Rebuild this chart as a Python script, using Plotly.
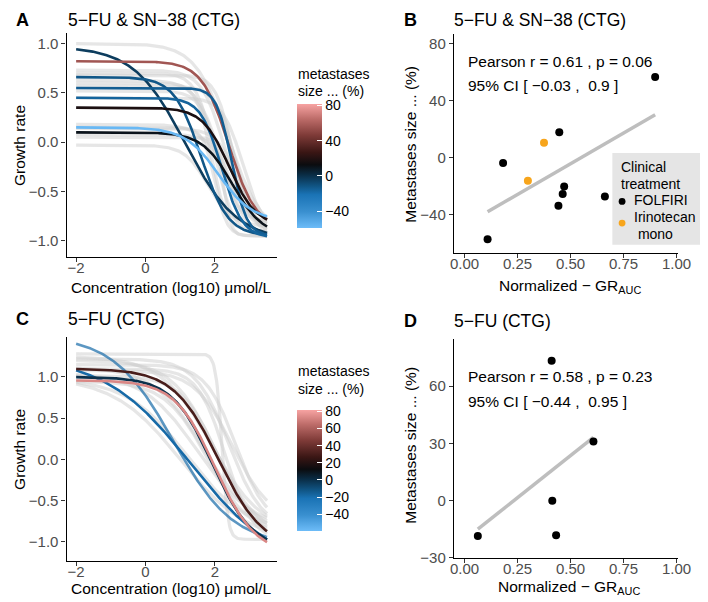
import numpy as np
import plotly.graph_objects as go
from plotly.colors import sample_colorscale

W, H = 708, 602
def X(px): return px / W
def Y(py): return 1 - py / H

FONT = "Liberation Sans, Arial, Helvetica, sans-serif"

# ---------------- data ----------------
conc_min, conc_max = -2.0, 3.5          # log10 umol/L

# GR curve fits: top, bottom, log10 GEC50, hill
# Panel A (5-FU & SN-38) - samples without metastases data (grey)
a_grey_top = [1.00, 0.73, 0.70, 0.68, 0.63, 0.60, 0.57, 0.52, 0.45, 0.18, 0.15, 0.14, 0.08, 0.05, -0.03]
a_grey_bot = [-0.95, -0.90, -0.95, -0.85, -1.00, -0.90, -0.95, -0.80, -0.90, -0.85, -0.95, -1.00, -0.90, -0.95, -0.85]
a_grey_ec  = [2.40, 2.30, 2.00, 2.50, 2.20, 1.90, 2.60, 2.10, 2.80, 2.30, 2.00, 2.70, 2.50, 2.25, 1.80]
a_grey_h   = [0.90, 1.30, 1.60, 1.80, 1.20, 2.00, 1.50, 1.60, 1.50, 1.20, 2.50, 1.40, 1.50, 4.00, 1.30]

# Panel A - samples with metastases size change (%)
a_met = [-3.7, 56.7, -12.0, -14.0, -16.0, 17.8, 10.4, -57.3]
a_top = [0.97, 0.82, 0.66, 0.55, 0.45, 0.35, 0.10, 0.15]
a_bot = [-1.00, -0.88, -0.95, -0.95, -0.97, -0.85, -0.95, -0.80]
a_ec  = [1.15, 2.40, 1.60, 2.48, 2.19, 2.41, 2.50, 2.10]
a_h   = [0.585, 1.11, 1.13, 2.00, 1.45, 1.13, 1.00, 0.90]

# Panel C (5-FU) grey
c_grey_top = [1.28, 1.22, 1.20, 1.15, 1.12, 1.10, 1.05, 1.02, 0.98, 1.08, 1.25, 1.00, 0.95]
c_grey_bot = [-0.97, -0.85, -0.95, -0.80, -0.90, -1.00, -0.85, -0.95, -0.90, -0.75, -0.90, -1.00, -0.95]
c_grey_ec  = [2.20, 2.40, 2.00, 2.60, 1.70, 2.30, 1.50, 2.10, 1.20, 2.50, 1.90, 1.00, 1.80]
c_grey_h   = [5.00, 0.90, 0.70, 1.00, 0.60, 1.10, 0.55, 0.80, 0.50, 0.80, 0.60, 0.45, 0.70]

# Panel C coloured
c_met = [-18.5, -18.1, 0.0, 73.4, 31.0]
c_alpha = [0.7, 1.0, 1.0, 1.0, 1.0]
c_top = [1.50, 1.25, 1.00, 0.96, 1.10]
c_bot = [-1.05, -1.35, -1.10, -1.15, -1.10]
c_ec  = [0.80, 1.30, 1.92, 2.00, 2.10]
c_h   = [0.50, 0.35, 0.75, 0.75, 0.67]

# Panel B scatter
b_folfiri_x = [0.899, 0.447, 0.182, 0.470, 0.463, 0.443, 0.662, 0.109]
b_folfiri_y = [56.7, 17.8, -3.7, -20.3, -25.6, -33.9, -27.3, -57.3]
b_irino_x = [0.375, 0.299]
b_irino_y = [10.4, -16.2]

# Panel D scatter
d_x = [0.411, 0.608, 0.414, 0.432, 0.063]
d_y = [73.4, 31.0, 0.0, -18.1, -18.5]

legend_title = ["Clinical", "treatment"]
legend_labels = [["FOLFIRI"], ["Irinotecan", " mono"]]
legend_colours = ["black", "#f7a51c"]

colour_limits = [-59, 82]

colorscale = [
    [0.00, "#6dbcf8"], [0.13, "#3a90d0"], [0.27, "#1a73b5"], [0.34, "#105483"],
    [0.43, "#0a2c44"], [0.51, "#0b0c0f"], [0.61, "#3a1614"], [0.75, "#7f3b38"],
    [0.88, "#bd6c69"], [1.00, "#f7a3a2"],
]

# ---------------- helpers ----------------
xs = np.linspace(conc_min, conc_max, 220)
def gr(top, bot, ec, h):
    return bot + (top - bot) / (1 + 10 ** (h * (xs - ec)))

def col(v):
    t = (v - colour_limits[0]) / (colour_limits[1] - colour_limits[0])
    return sample_colorscale(colorscale, [min(max(t, 0), 1)])[0]

fig = go.Figure()
GREY = "rgba(205,205,205,0.5)"

def add_curves(tops, bots, ecs, hs, xa, ya, mets=None, alphas=None):
    for i in range(len(tops)):
        c = GREY if mets is None else col(mets[i])
        w = 3.2 if mets is None else 2.6
        op = 1.0 if alphas is None else alphas[i]
        fig.add_trace(go.Scatter(x=xs, y=gr(tops[i], bots[i], ecs[i], hs[i]), mode="lines",
                                 line=dict(color=c, width=w), opacity=op, xaxis=xa, yaxis=ya,
                                 showlegend=False, hoverinfo="skip"))

add_curves(a_grey_top, a_grey_bot, a_grey_ec, a_grey_h, "x", "y")
add_curves(a_top, a_bot, a_ec, a_h, "x", "y", a_met)
add_curves(c_grey_top, c_grey_bot, c_grey_ec, c_grey_h, "x3", "y3")
add_curves(c_top, c_bot, c_ec, c_h, "x3", "y3", c_met, c_alpha)

# colourbar carriers
for vals, ax, xa, ya in [(a_met, "coloraxis", "x", "y"), (c_met, "coloraxis2", "x3", "y3")]:
    fig.add_trace(go.Scatter(x=[None] * len(vals), y=[None] * len(vals), mode="markers",
                             marker=dict(color=vals, coloraxis=ax), xaxis=xa, yaxis=ya,
                             showlegend=False, hoverinfo="skip"))

# regression lines
def add_fit(xv, yv, xa, ya):
    k, b = np.polyfit(xv, yv, 1)
    x0, x1 = min(xv), max(xv)
    fig.add_trace(go.Scatter(x=[x0, x1], y=[k * x0 + b, k * x1 + b], mode="lines",
                             line=dict(color="#bebebe", width=3.5), xaxis=xa, yaxis=ya,
                             showlegend=False, hoverinfo="skip"))

add_fit(b_folfiri_x + b_irino_x, b_folfiri_y + b_irino_y, "x2", "y2")
add_fit(d_x, d_y, "x4", "y4")

fig.add_trace(go.Scatter(x=b_folfiri_x, y=b_folfiri_y, mode="markers", name="FOLFIRI",
                         marker=dict(color=legend_colours[0], size=8), xaxis="x2", yaxis="y2",
                         showlegend=False))
fig.add_trace(go.Scatter(x=b_irino_x, y=b_irino_y, mode="markers", name="Irinotecan mono",
                         marker=dict(color=legend_colours[1], size=8), xaxis="x2", yaxis="y2",
                         showlegend=False))
fig.add_trace(go.Scatter(x=d_x, y=d_y, mode="markers", showlegend=False,
                         marker=dict(color="black", size=8), xaxis="x4", yaxis="y4"))

# ---------------- axes ----------------
def axis(domain, rng, tickvals, fmt, anchor, isx=True):
    d = dict(domain=domain, range=rng, tickvals=tickvals, tickformat=fmt, anchor=anchor,
             showline=True, linecolor="black", linewidth=1.2, ticks="outside", ticklen=4,
             tickcolor="#333333", tickwidth=1, tickfont=dict(size=15, color="#4d4d4d", family=FONT),
             showgrid=False, zeroline=False)
    if isx:
        d["ticklabelstandoff"] = -7
    return d

xdomAC = [X(56), X(271.5)]
xdomBD = [X(453.4), X(683)]
xlab = "Concentration (log10) μmol/L"
xlab2 = "Normalized − GR<sub>AUC</sub>"
ylab = "Growth rate"
ylab2 = "Metastases size ... (%)"

fig.update_layout(
    xaxis=axis(xdomAC, [-2.275, 3.775], [-2, 0, 2], "d", "y"),
    yaxis=axis([Y(252), Y(25)], [-1.16, 1.11], [-1, -0.5, 0, 0.5, 1], ".1f", "x", False),
    xaxis2=axis(xdomBD, [-0.05, 1.005], [0, 0.25, 0.5, 0.75, 1], ".2f", "y2"),
    yaxis2=axis([Y(248), Y(26)], [-66.8, 87.1], [-40, 0, 40, 80], "d", "x2", False),
    xaxis3=axis(xdomAC, [-2.275, 3.775], [-2, 0, 2], "d", "y3"),
    yaxis3=axis([Y(560.7), Y(333)], [-1.236, 1.49], [-1, -0.5, 0, 0.5, 1], ".1f", "x3", False),
    xaxis4=axis(xdomBD, [-0.05, 1.005], [0, 0.25, 0.5, 0.75, 1], ".2f", "y4"),
    yaxis4=axis([Y(557.3), Y(335)], [-30, 85], [-30, 0, 30, 60], "d", "x4", False),
)

def cbar(top_px, length, dtick):
    return dict(colorscale=colorscale, cmin=colour_limits[0], cmax=colour_limits[1],
                colorbar=dict(x=X(292), xanchor="left", y=Y(top_px), yanchor="top",
                              len=length, lenmode="pixels", thickness=25, thicknessmode="pixels",
                              xpad=0, ypad=0, outlinewidth=0, ticks="inside", tickcolor="white",
                              ticklen=5, tick0=0, dtick=dtick,
                              tickfont=dict(size=14, color="black", family=FONT)))

fig.update_layout(coloraxis=cbar(97, 124, 40), coloraxis2=cbar(407, 121, 20))

ann = []
def text(px, py, s, size=15, bold=False, xanchor="left", angle=0):
    ann.append(dict(x=X(px), y=Y(py), xref="paper", yref="paper", text=("<b>%s</b>" % s) if bold else s,
                    showarrow=False, xanchor=xanchor, yanchor="middle", textangle=angle,
                    font=dict(size=size, color="black", family=FONT)))

text(2, 12, "A", 18, True)
text(55, 12, "5−FU & SN−38 (CTG)", 17.5)
text(400, 12, "B", 18, True)
text(451, 12, "5−FU & SN−38 (CTG)", 17.5)
text(2, 315, "C", 18, True)
text(55, 315, "5−FU (CTG)", 17.5)
text(400, 317, "D", 18, True)
text(451, 317, "5−FU (CTG)", 17.5)
text(466, 54, "Pearson r = 0.61 , p = 0.06", 15.5)
text(466, 79, "95% CI [ −0.03 , \u00a00.9 ]", 15.5)
text(466, 373, "Pearson r = 0.58 , p = 0.23", 15.5)
text(466, 399, "95% CI [ −0.44 , \u00a00.95 ]", 15.5)
text(291, 67, "metastases", 14)
text(291, 84, "size ... (%)", 14)
text(291, 368, "metastases", 14)
text(291, 386, "size ... (%)", 14)
# axis titles
text(164, 283, xlab, 15.5, xanchor="center")
text(164, 588, xlab, 15.5, xanchor="center")
text(573, 282, xlab2, 15.5, xanchor="center")
text(572, 587, xlab2, 15.5, xanchor="center")
text(7, 139, ylab, 15.5, xanchor="center", angle=-90)
text(7, 447, ylab, 15.5, xanchor="center", angle=-90)
text(409, 138, ylab2, 15.5, xanchor="center", angle=-90)
text(409, 443, ylab2, 15.5, xanchor="center", angle=-90)
# legend (panel B)
text(623, 161, legend_title[0], 14)
text(623, 178, legend_title[1], 14)
text(636, 195, legend_labels[0][0], 14)
text(636, 212, legend_labels[1][0], 14)
text(636, 229, legend_labels[1][1].replace(" ", "\u00a0"), 14)

shapes = [dict(type="rect", xref="paper", yref="paper", x0=X(616), x1=X(708), y0=Y(240), y1=Y(147),
               fillcolor="#e5e5e5", line=dict(width=0), layer="below")]
for i, cy in enumerate([196, 218]):
    shapes.append(dict(type="circle", xref="paper", yref="paper", x0=X(622.5), x1=X(629.5),
                       y0=Y(cy + 3.5), y1=Y(cy - 3.5), fillcolor=legend_colours[i],
                       line=dict(width=0)))

fig.update_layout(
    width=W, height=H, margin=dict(l=0, r=0, t=0, b=0),
    plot_bgcolor="white", paper_bgcolor="white",
    font=dict(family=FONT, size=14, color="black"),
    annotations=ann, shapes=shapes, showlegend=False,
)

fig.write_html("out.html")
